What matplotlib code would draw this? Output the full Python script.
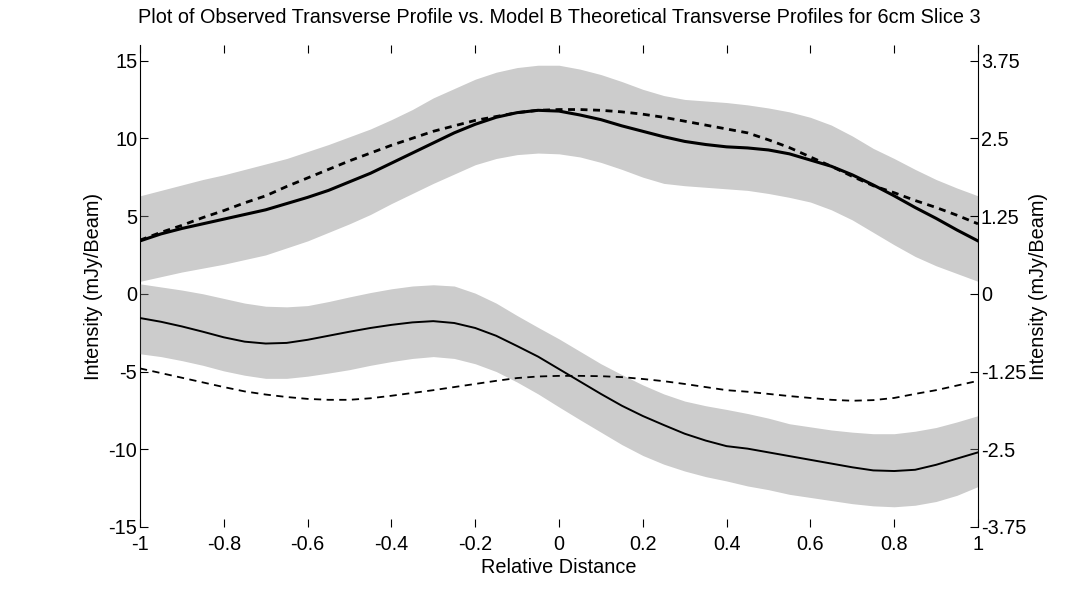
import matplotlib
matplotlib.use("Agg")
import matplotlib.pyplot as plt

plt.rcParams['font.family'] = ['Liberation Sans', 'DejaVu Sans']
plt.rcParams['axes.unicode_minus'] = False

# relative distance
dist = [-1.0, -0.95, -0.9, -0.85, -0.8, -0.75, -0.7, -0.65, -0.6, -0.55, -0.5,
        -0.45, -0.4, -0.35, -0.3, -0.25, -0.2, -0.15, -0.1, -0.05, 0.0,
        0.05, 0.1, 0.15, 0.2, 0.25, 0.3, 0.35, 0.4, 0.45, 0.5,
        0.55, 0.6, 0.65, 0.7, 0.75, 0.8, 0.85, 0.9, 0.95, 1.0]

# perfis de cima (eixo esquerdo, mJy/Beam)
obs_upper = [3.4, 3.85, 4.2, 4.5, 4.8, 5.1, 5.4, 5.8, 6.2, 6.65, 7.2,
             7.75, 8.4, 9.05, 9.7, 10.35, 10.9, 11.35, 11.65, 11.8, 11.75,
             11.5, 11.2, 10.8, 10.45, 10.1, 9.8, 9.6, 9.45, 9.38, 9.25,
             9.0, 8.6, 8.2, 7.65, 7.0, 6.3, 5.55, 4.85, 4.1, 3.4]
model_upper = [3.45, 3.95, 4.4, 4.9, 5.35, 5.85, 6.3, 6.9, 7.45, 8.0, 8.55,
               9.05, 9.55, 10.0, 10.45, 10.8, 11.15, 11.4, 11.65, 11.8, 11.85,
               11.85, 11.8, 11.7, 11.55, 11.35, 11.1, 10.85, 10.6, 10.35, 9.9,
               9.4, 8.8, 8.2, 7.55, 6.95, 6.5, 6.0, 5.55, 5.05, 4.5]
band_upper_hi = [6.3, 6.65, 7.0, 7.35, 7.65, 8.0, 8.35, 8.7, 9.15, 9.6, 10.1,
                 10.6, 11.2, 11.85, 12.6, 13.2, 13.8, 14.25, 14.55, 14.7, 14.7,
                 14.45, 14.1, 13.65, 13.15, 12.75, 12.5, 12.4, 12.3, 12.15, 11.95,
                 11.7, 11.35, 10.85, 10.15, 9.35, 8.7, 8.0, 7.35, 6.8, 6.3]
band_upper_lo = [0.8, 1.1, 1.4, 1.65, 1.9, 2.2, 2.5, 2.95, 3.4, 3.95, 4.5,
                 5.1, 5.8, 6.45, 7.1, 7.7, 8.3, 8.7, 8.95, 9.05, 9.0,
                 8.8, 8.45, 8.0, 7.5, 7.1, 6.95, 6.85, 6.75, 6.65, 6.45,
                 6.2, 5.9, 5.4, 4.75, 3.95, 3.15, 2.4, 1.8, 1.3, 0.8]

# perfis de baixo (eixo direito, mJy/Beam)
obs_lower = [-0.39, -0.45, -0.525, -0.61, -0.7, -0.77, -0.8, -0.79, -0.74, -0.675, -0.61,
             -0.55, -0.5, -0.46, -0.44, -0.47, -0.55, -0.675, -0.84, -1.01, -1.21,
             -1.41, -1.61, -1.8, -1.965, -2.11, -2.25, -2.36, -2.45, -2.49, -2.55,
             -2.61, -2.67, -2.73, -2.79, -2.84, -2.85, -2.83, -2.75, -2.65, -2.55]
model_lower = [-1.2, -1.275, -1.35, -1.425, -1.5, -1.57, -1.62, -1.66, -1.69, -1.705, -1.705,
               -1.68, -1.64, -1.595, -1.55, -1.5, -1.45, -1.4, -1.355, -1.33, -1.32,
               -1.32, -1.325, -1.34, -1.37, -1.405, -1.45, -1.5, -1.55, -1.575, -1.61,
               -1.645, -1.675, -1.705, -1.72, -1.71, -1.675, -1.61, -1.55, -1.475, -1.4]
band_lower_hi = [0.16, 0.11, 0.06, 0.0, -0.075, -0.15, -0.2, -0.21, -0.19, -0.125, -0.05,
                 0.02, 0.08, 0.125, 0.145, 0.125, 0.01, -0.15, -0.35, -0.54, -0.725,
                 -0.925, -1.125, -1.3, -1.465, -1.61, -1.725, -1.8, -1.86, -1.925, -2.0,
                 -2.09, -2.14, -2.19, -2.225, -2.25, -2.25, -2.21, -2.15, -2.06, -1.96]
band_lower_lo = [-0.965, -1.01, -1.075, -1.15, -1.24, -1.31, -1.36, -1.36, -1.325, -1.275, -1.22,
                 -1.15, -1.09, -1.04, -1.01, -1.04, -1.125, -1.25, -1.42, -1.61, -1.82,
                 -2.025, -2.225, -2.425, -2.6, -2.74, -2.85, -2.94, -3.01, -3.09, -3.15,
                 -3.225, -3.275, -3.325, -3.375, -3.41, -3.425, -3.4, -3.34, -3.24, -3.1]

x_ticks = [-1, -0.8, -0.6, -0.4, -0.2, 0, 0.2, 0.4, 0.6, 0.8, 1]
x_labels = ['-1', '-0.8', '-0.6', '-0.4', '-0.2', '0', '0.2', '0.4', '0.6', '0.8', '1']
left_ticks = [-15, -10, -5, 0, 5, 10, 15]
right_ticks = [-3.75, -2.5, -1.25, 0, 1.25, 2.5, 3.75]
right_labels = ['-3.75', '-2.5', '-1.25', '0', '1.25', '2.5', '3.75']

fs = 14.3

fig = plt.figure(figsize=(10.81, 5.93), dpi=100)
ax = fig.add_axes([0.1295, 0.1113, 0.7752, 0.8128])
ax2 = ax.twinx()

# --- cima: observado vs modelo ---
ax.fill_between(dist, band_upper_lo, band_upper_hi, color='0.5', alpha=0.4, lw=0)
ax.plot(dist, obs_upper, color='k', lw=2.2)
ax.plot(dist, model_upper, color='k', lw=2.0, ls=(0, (2.5, 2)))

# --- baixo: eixo da direita ---
ax2.fill_between(dist, band_lower_lo, band_lower_hi, color='0.5', alpha=0.4, lw=0)
ax2.plot(dist, obs_lower, color='k', lw=1.4)
ax2.plot(dist, model_lower, color='k', lw=1.3, ls=(0, (4, 3)))

ax.set_xlim(-1, 1)
ax.set_ylim(-15, 16)
ax2.set_ylim(-3.75, 4)

ax.set_xticks(x_ticks)
ax.set_xticklabels(x_labels)
ax.set_yticks(left_ticks)
ax2.set_yticks(right_ticks)
ax2.set_yticklabels(right_labels)

for a in (ax, ax2):
    a.spines['top'].set_visible(False)
    a.spines['bottom'].set_visible(False)
    a.set_axisbelow(True)
ax.spines['right'].set_visible(False)
ax2.spines['left'].set_visible(False)

ax.tick_params(axis='x', direction='in', top=True, bottom=True, length=6, width=0.8,
               labelsize=fs, pad=6)
ax.tick_params(axis='y', direction='in', length=6, width=0.8, labelsize=fs, pad=2)
ax2.tick_params(axis='y', direction='in', length=6, width=0.8, labelsize=fs, pad=2)

ax.set_xlabel('Relative Distance', fontsize=fs, labelpad=3)
ax.set_ylabel('Intensity (mJy/Beam)', fontsize=fs, labelpad=4)
ax2.set_ylabel('Intensity (mJy/Beam)', fontsize=fs, labelpad=2)
ax.set_title('Plot of Observed Transverse Profile vs. Model B Theoretical Transverse Profiles for 6cm Slice 3',
             fontsize=fs, pad=16)

fig.savefig('out.png', dpi=100)
